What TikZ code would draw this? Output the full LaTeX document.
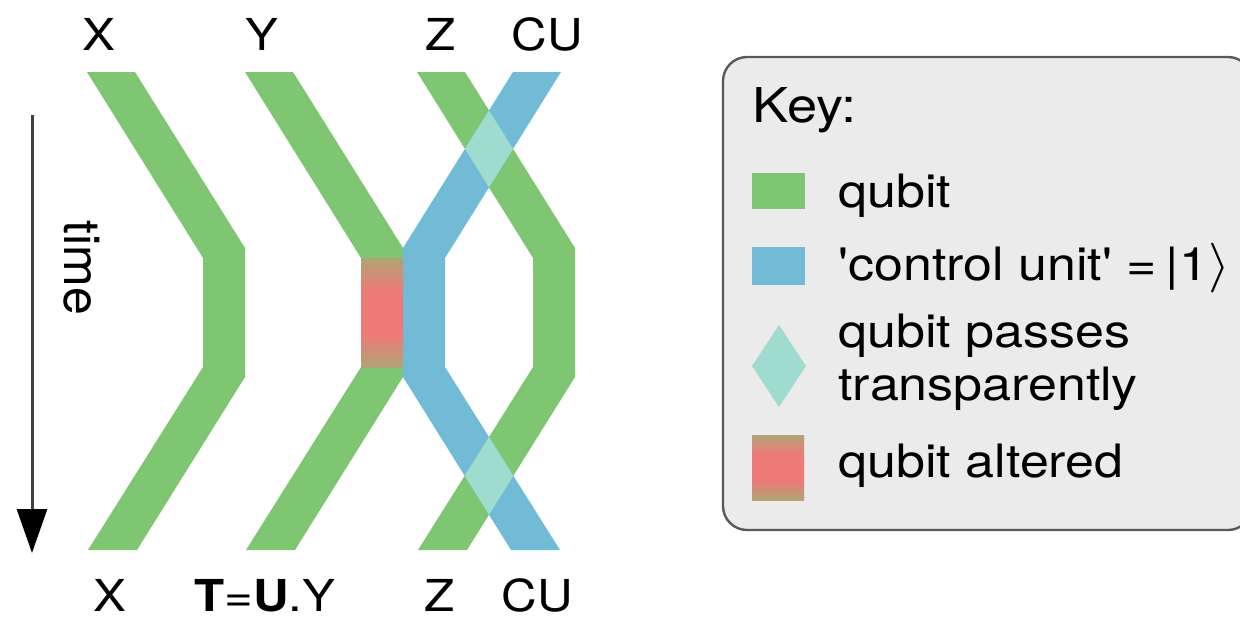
\documentclass[tikz,border=0pt]{standalone}
\usepackage{fontspec}
\setmainfont{TeX Gyre Heros}
\usetikzlibrary{arrows.meta}

\definecolor{qgreen}{RGB}{126,198,114}
\definecolor{qblue}{RGB}{113,187,214}
\definecolor{qpass}{RGB}{160,219,208}
\definecolor{qred}{RGB}{238,122,120}
\definecolor{keygray}{RGB}{235,235,235}

\pgfdeclareverticalshading{altered}{100bp}{color(0bp)=(qgreen!55!qred); color(25bp)=(qgreen!55!qred); color(40bp)=(qred); color(60bp)=(qred); color(75bp)=(qgreen!55!qred); color(100bp)=(qgreen!55!qred)}

\tikzset{
  lbl/.style={font=\fontsize{22}{26}\selectfont, xscale=1.12, inner sep=0pt, anchor=base},
  keytxt/.style={font=\fontsize{23}{26.5}\selectfont, xscale=1.13, inner sep=0pt, anchor=base west, align=left},
}

\begin{document}
\begin{tikzpicture}[x=0.5pt, y=-0.5pt]
\useasboundingbox (0,0) rectangle (1240,617);
% qubit bands
\fill[qgreen] (87,72) -- (135,72) -- (245,248) -- (245,377) -- (137,550) -- (88,550) -- (203,367) -- (203,258) -- cycle;
\fill[qgreen] (245,72) -- (293,72) -- (403,248) -- (403,377) -- (295,550) -- (246,550) -- (361,367) -- (361,258) -- cycle;
\fill[qgreen] (417,72) -- (465,72) -- (575,248) -- (575,377) -- (467,550) -- (418,550) -- (533,367) -- (533,258) -- cycle;
% control unit
\fill[qblue] (561,72) -- (513,72) -- (403,248) -- (403,377) -- (511,550) -- (560,550) -- (445,367) -- (445,258) -- cycle;
% crossings
\begin{scope}
\clip (417,72) -- (465,72) -- (575,248) -- (575,377) -- (467,550) -- (418,550) -- (533,367) -- (533,258) -- cycle;
\fill[qpass] (561,72) -- (513,72) -- (403,248) -- (403,377) -- (511,550) -- (560,550) -- (445,367) -- (445,258) -- cycle;
\end{scope}
\shade[shading=altered] (361,258) rectangle (403,367);
% time axis
\coordinate (tstart) at (32,115);
\coordinate (tend) at (32,553);
\draw[line width=1.5pt, black!75, -{Triangle[length=22pt,width=15pt,black]}] (tstart) -- (tend);
\node[rotate=-90, inner sep=0pt, font=\fontsize{25}{30}\selectfont] (timelbl) at (82,268) {time};
% labels
\node[lbl] (inX) at (99,50) {X};
\node[lbl] (inY) at (262,50) {Y};
\node[lbl] (inZ) at (441,50) {Z};
\node[lbl] (inCU) at (547,50) {CU};
\node[lbl] (outX) at (110,611) {X};
\node[lbl] (outY) at (265,611) {\textbf{T}=\textbf{U}.Y};
\node[lbl] (outZ) at (440,611) {Z};
\node[lbl] (outCU) at (537,611) {CU};
% key
\draw[draw=black!65, line width=1.2pt, fill=keygray, rounded corners=12pt] (723,57) rectangle (1252,530);
\node[keytxt, font=\fontsize{24}{28}\selectfont] (keyTitle) at (752,122) {Key:};
\fill[qgreen] (752,173) rectangle (805,209);
\node[keytxt] (keyQubit) at (838,207) {qubit};
\fill[qblue] (752,247) rectangle (805,285);
\node[keytxt] (keyCU) at (838,280) {\textquotesingle control unit\textquotesingle\ =\,|1$\rangle$};
\fill[qpass] (779,325) -- (806,366) -- (779,407) -- (752,366) -- cycle;
\node[keytxt] (keyPass) at (838,400) {qubit passes\\transparently};
\shade[shading=altered] (752,435) rectangle (804,500);
\node[keytxt] (keyAlt) at (838,477) {qubit altered};
\end{tikzpicture}
\end{document}
